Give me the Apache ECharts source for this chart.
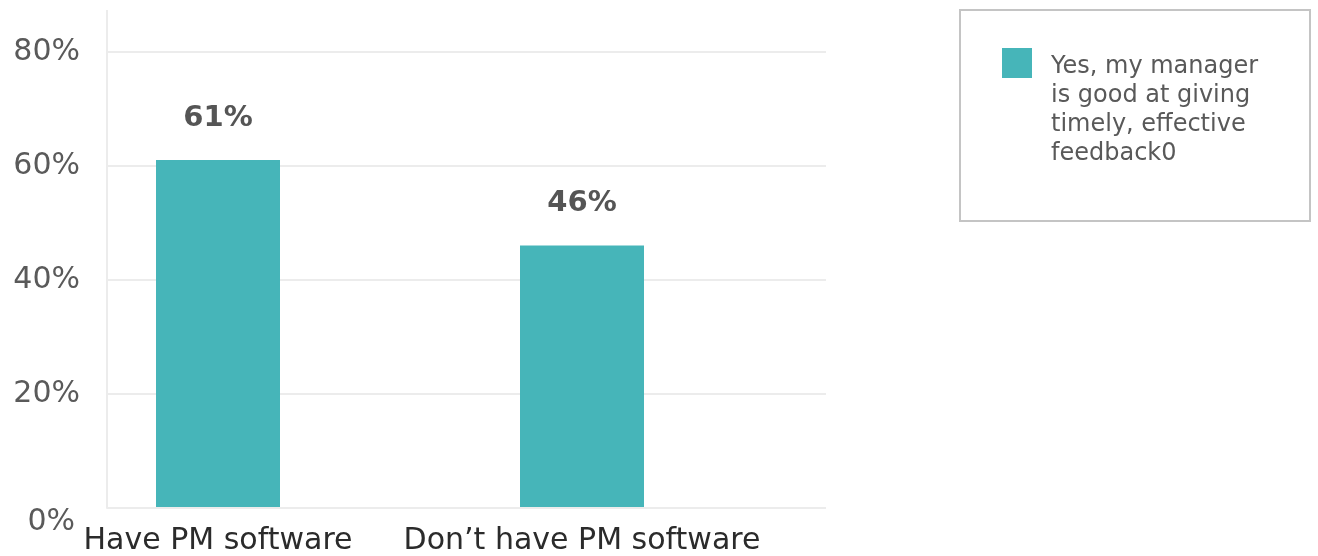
<!DOCTYPE html>
<html>
<head>
<meta charset="utf-8">
<style>
  html, body { margin: 0; padding: 0; background: #ffffff; }
  #chart { width: 1318px; height: 556px; }
</style>
<script src="https://cdn.jsdelivr.net/npm/echarts@6/dist/echarts.min.js"></script>
</head>
<body>
<div id="chart"></div>
<script>
// Share of respondents whose manager gives timely, effective feedback
const categories = ['Have PM software', 'Don\u2019t have PM software'];
const feedbackValues = [61, 46];
const seriesName = 'Yes, my manager is good at giving timely, effective feedback0';
const legendLines = ['Yes, my manager', 'is good at giving', 'timely, effective', 'feedback0'];
const yTicks = [0, 20, 40, 60, 80];

const FONT = 'DejaVu Sans';
const TEAL = '#46b5b9';
const GRID_GRAY = '#ececec';

const chart = echarts.init(document.getElementById('chart'), null, { renderer: 'canvas' });

const yMin = yTicks[0];
const yMax = yTicks[yTicks.length - 1];
const yStep = yTicks[1] - yTicks[0];

chart.setOption({
  backgroundColor: '#ffffff',
  animation: false,
  grid: [
    // gridlines and value labels
    { left: 107, right: 492, top: 52, bottom: 48 },
    // bar placement
    { left: 36, right: 554, top: 52, bottom: 48 }
  ],
  xAxis: [
    { gridIndex: 0, type: 'category', data: categories, show: false },
    {
      gridIndex: 1,
      type: 'category',
      data: categories,
      axisLine: { show: false },
      axisTick: { show: false },
      axisLabel: {
        margin: 19,
        fontFamily: FONT,
        fontSize: 30,
        color: '#2b2b2b',
        interval: 0
      }
    }
  ],
  yAxis: [
    {
      gridIndex: 0,
      type: 'value',
      min: yMin,
      max: yMax,
      interval: yStep,
      axisLine: { show: true, lineStyle: { color: GRID_GRAY, width: 2 } },
      axisTick: { show: false },
      splitLine: { show: true, lineStyle: { color: GRID_GRAY, width: 2 } },
      axisLabel: {
        margin: 27,
        fontFamily: FONT,
        fontSize: 30,
        color: '#5a5a5a',
        formatter: function (v) {
          return v === 0 ? '{zero|' + v + '%}' : v + '%';
        },
        rich: {
          zero: {
            fontFamily: FONT,
            fontSize: 30,
            color: '#5a5a5a',
            padding: [28, 5, 0, 0]
          }
        }
      }
    },
    {
      gridIndex: 1,
      type: 'value',
      min: yMin,
      max: yMax,
      interval: yStep,
      show: false
    }
  ],
  legend: {
    left: 1002,
    top: 48,
    padding: 0,
    itemWidth: 30,
    itemHeight: 125,
    itemGap: 0,
    // square swatch at the top of a tall item, level with the first text line
    icon: 'path://M0,0L30,0L30,30L0,30Z M0,125L30,125',
    selectedMode: false,
    formatter: function () { return legendLines.join('\n'); },
    textStyle: {
      fontFamily: FONT,
      fontSize: 24,
      lineHeight: 29,
      color: '#595959',
      padding: [0, 0, 0, 14]
    },
    data: [seriesName]
  },
  graphic: [
    // legend frame
    {
      type: 'rect',
      shape: { x: 960, y: 10, width: 350, height: 211 },
      style: { fill: 'none', stroke: '#c4c4c4', lineWidth: 2 },
      silent: true
    },
    // value axis line continues above the top gridline
    {
      type: 'line',
      shape: { x1: 107, y1: 10, x2: 107, y2: 52 },
      style: { stroke: GRID_GRAY, lineWidth: 2 },
      silent: true
    }
  ],
  series: [
    {
      name: seriesName,
      type: 'bar',
      xAxisIndex: 1,
      yAxisIndex: 1,
      data: feedbackValues,
      barWidth: 124,
      itemStyle: { color: TEAL },
      label: {
        show: true,
        position: 'top',
        distance: 27,
        formatter: '{c}%',
        fontFamily: FONT,
        fontSize: 29,
        fontWeight: 'bold',
        color: '#555555'
      }
    }
  ]
});
</script>
</body>
</html>
